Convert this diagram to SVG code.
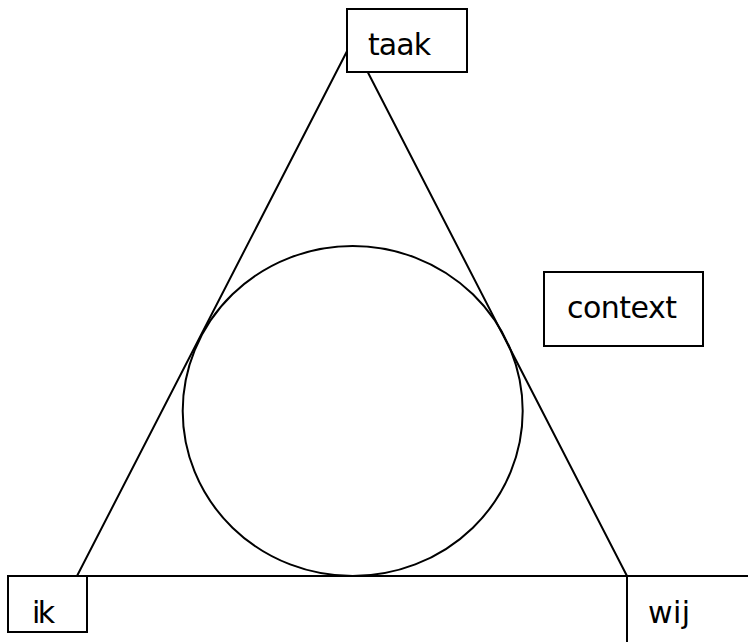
<svg xmlns="http://www.w3.org/2000/svg" width="748" height="642" viewBox="0 0 748 642">
<style>
.box{fill:#fff;stroke:#000;stroke-width:2}
.ln{fill:none;stroke:#000;stroke-width:2}
.lbl{font-family:"Comic Sans MS","DejaVu Sans",sans-serif;font-size:30px;fill:#000}
</style>
<rect width="748" height="642" fill="#fff"/>
<g id="connectors">
<polyline class="ln" points="77,576 352,41.5 627,576"/>
<line class="ln" x1="87" y1="576" x2="748" y2="576"/>
<line class="ln" x1="627" y1="576" x2="627" y2="642"/>
<ellipse class="ln" cx="352.7" cy="411" rx="170" ry="165" stroke-width="1.6"/>
</g>
<g id="taak">
<rect class="box" x="347" y="9" width="120" height="63"/>
<text class="lbl" x="368" y="55" textLength="63">taak</text>
</g>
<g id="context">
<rect class="box" x="544" y="272" width="159" height="74"/>
<text class="lbl" x="567" y="318" textLength="110">context</text>
</g>
<g id="ik">
<rect class="box" x="8" y="576" width="79" height="56"/>
<text class="lbl" x="32" y="623" textLength="23">ik</text>
</g>
<g id="wij">
<text class="lbl" x="648" y="623" textLength="42">wij</text>
</g>
</svg>
